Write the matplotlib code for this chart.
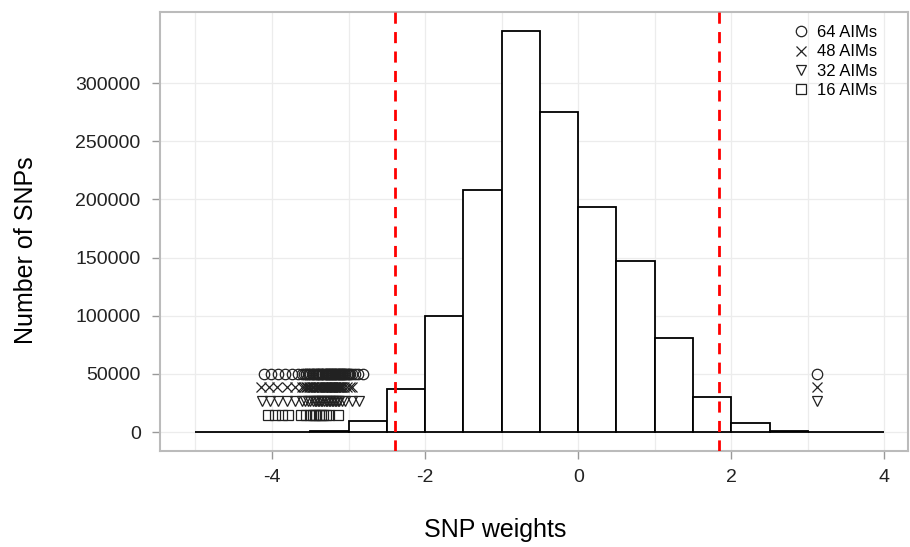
import numpy as np
import matplotlib
matplotlib.use("Agg")
import matplotlib.pyplot as plt

plt.rcParams['font.family'] = ['Liberation Sans', 'DejaVu Sans']

# histogram of SNP weights (bin width 0.5)
bin_edges = [-5.0, -4.5, -4.0, -3.5, -3.0, -2.5, -2.0, -1.5, -1.0, -0.5,
             0.0, 0.5, 1.0, 1.5, 2.0, 2.5, 3.0, 3.5, 4.0]
counts = [0, 0, 0, 800, 9500, 37000, 100000, 208000, 345000, 275500,
          193500, 147000, 80500, 30000, 7500, 1000, 150, 0]

# thresholds
cut_lo = -2.39
cut_hi = 1.84

# AIM weights for each panel size
aims_64 = [-4.10, -4.01, -3.92, -3.83, -3.74, -3.66, -3.61,
           -3.58, -3.56, -3.55, -3.53, -3.52, -3.50, -3.48, -3.47, -3.46, -3.44,
           -3.43, -3.41, -3.40, -3.39, -3.38, -3.36, -3.35, -3.34, -3.33, -3.31,
           -3.30, -3.29, -3.28, -3.27, -3.26, -3.25, -3.24, -3.23, -3.22, -3.21,
           -3.20, -3.19, -3.18, -3.17, -3.16, -3.15, -3.14, -3.13, -3.12, -3.11,
           -3.10, -3.09, -3.08, -3.07, -3.06, -3.05, -3.04, -3.02, -3.01, -3.00,
           -2.98, -2.96, -2.92, -2.87, -2.81, 3.12]
aims_48 = [-4.14, -4.04, -3.93, -3.80, -3.70, -3.61, -3.58, -3.56, -3.54,
           -3.52, -3.50, -3.48, -3.46, -3.45, -3.43, -3.41, -3.40, -3.38, -3.37,
           -3.35, -3.34, -3.32, -3.31, -3.30, -3.28, -3.27, -3.26, -3.24, -3.23,
           -3.22, -3.21, -3.20, -3.19, -3.18, -3.17, -3.16, -3.15, -3.14, -3.13,
           -3.12, -3.11, -3.10, -3.08, -3.06, -3.02, -2.98, -2.95, 3.12]
aims_32 = [-4.13, -4.03, -3.92, -3.80, -3.70, -3.61, -3.57, -3.53, -3.50,
           -3.47, -3.44, -3.42, -3.40, -3.38, -3.36, -3.34, -3.32, -3.30, -3.28,
           -3.26, -3.24, -3.22, -3.20, -3.18, -3.16, -3.14, -3.12, -3.09, -3.04,
           -2.96, -2.86, 3.12]
aims_16 = [-4.05, -3.96, -3.87, -3.79, -3.62, -3.56, -3.50, -3.47, -3.44,
           -3.42, -3.39, -3.36, -3.33, -3.30, -3.26, -3.14]

rows = [(aims_64, 50000, 'o', '64 AIMs'),
        (aims_48, 38333, 'x', '48 AIMs'),
        (aims_32, 26667, 'v', '32 AIMs'),
        (aims_16, 15000, 's', '16 AIMs')]

fig = plt.figure(figsize=(9.1, 5.47), dpi=100)
ax = fig.add_axes([0.176, 0.1755, 0.822, 0.8025])

widths = np.diff(bin_edges)
ax.bar(bin_edges[:-1], counts, width=widths, align='edge', color='white',
       edgecolor='black', linewidth=1.3, zorder=2)

ax.axvline(cut_lo, color='red', linestyle=(0, (4, 3)), linewidth=2, zorder=4)
ax.axvline(cut_hi, color='red', linestyle=(0, (4, 3)), linewidth=2, zorder=4)

for vals, yv, mk, lab in rows:
    ax.plot(vals, [yv] * len(vals), linestyle='none', marker=mk,
            markersize=7.5, markerfacecolor='none', markeredgecolor='#222222',
            markeredgewidth=0.9, color='#222222', label=lab, zorder=3)

ax.set_xlim(-5.46, 4.31)
ax.set_ylim(-16300, 361000)
ax.set_xticks([-4, -2, 0, 2, 4])
ax.set_yticks([0, 50000, 100000, 150000, 200000, 250000, 300000])
ax.set_xticklabels(['-4', '-2', '0', '2', '4'])
ax.set_yticklabels(['0', '50000', '100000', '150000', '200000', '250000', '300000'])

ax.set_xticks(np.arange(-5, 5, 1), minor=True)
ax.grid(True, which='both', axis='x', color='#ececec', linewidth=0.9, zorder=0)
ax.grid(True, which='major', axis='y', color='#ececec', linewidth=0.9, zorder=0)
ax.tick_params(axis='x', which='minor', length=0)
ax.tick_params(axis='both', which='major', labelsize=14, length=6, width=1,
               color='#999999', labelcolor='#222222')
ax.tick_params(axis='y', pad=8)
ax.tick_params(axis='x', pad=7)
ax.set_axisbelow(True)

for sp in ax.spines.values():
    sp.set_color('#bbbbbb')
    sp.set_linewidth(1.5)

ax.set_xlabel('SNP weights', fontsize=18, va='center', ha='center')
ax.set_ylabel('Number of SNPs', fontsize=18, va='center', ha='center')
ax.xaxis.set_label_coords(0.448, -0.180)
ax.yaxis.set_label_coords(-0.18, 0.458)

leg = ax.legend(loc='upper right', bbox_to_anchor=(0.968, 0.985), frameon=False,
                fontsize=12, handlelength=0.8, handletextpad=0.6,
                labelspacing=0.25, borderaxespad=0)

fig.savefig('out.png', dpi=100)
